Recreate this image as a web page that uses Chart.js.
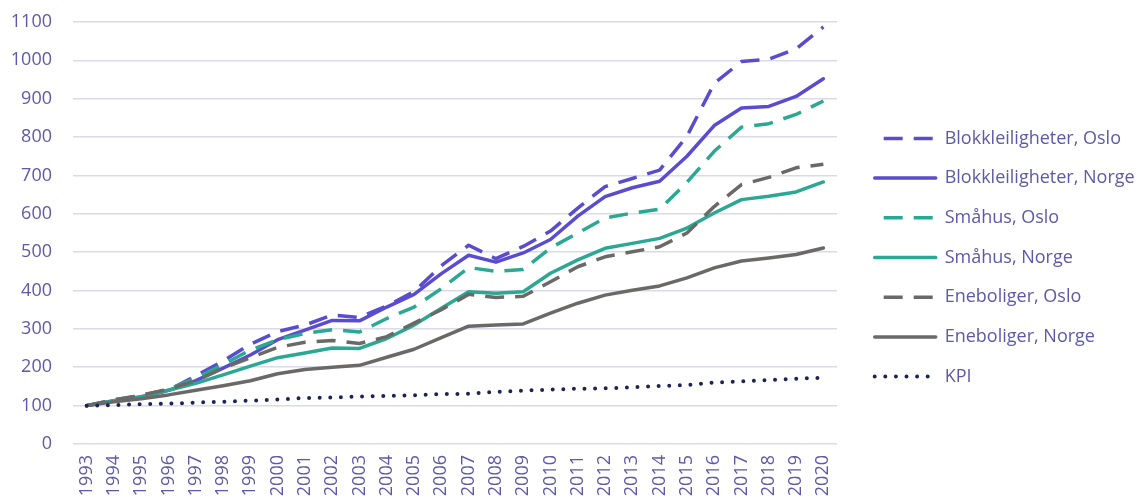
<!DOCTYPE html>
<html>
<head>
<meta charset="utf-8">
<script src="https://cdn.jsdelivr.net/npm/chart.js@4/dist/chart.umd.min.js"></script>
<style>
  html, body { margin: 0; padding: 0; background: #ffffff; }
  #wrap { width: 1140px; height: 499px; position: relative; }
</style>
</head>
<body>
<div id="wrap"><canvas id="chart"></canvas></div>
<script>
// Prisindeks (1993 = 100) for boligtyper i Oslo og Norge, sammen med KPI
const years = ['1993','1994','1995','1996','1997','1998','1999','2000','2001','2002',
               '2003','2004','2005','2006','2007','2008','2009','2010','2011','2012',
               '2013','2014','2015','2016','2017','2018','2019','2020'];

const blokkOslo  = [100,113,125,140,178,216,260,293,310,336,330,360,397,465,518,483,515,555,615,671,692,714,802,940,997,1003,1030,1087];
const blokkNorge = [100,113,123,140,165,198,232,272,297,322,321,357,390,444,492,474,498,533,594,645,668,685,750,830,876,880,906,952];
const smahusOslo = [100,115,127,142,172,207,245,272,288,298,292,327,357,405,460,450,455,511,550,589,602,612,682,763,826,835,859,894];
const smahusNorge = [100,113,122,140,158,180,203,225,237,250,249,275,310,354,397,393,397,445,480,510,523,536,563,602,637,646,657,683];
const eneOslo    = [100,115,127,143,165,198,225,252,265,270,262,280,315,350,390,382,385,423,462,488,501,514,550,619,676,695,720,729];
const eneNorge   = [100,110,118,128,140,152,165,183,194,200,205,226,247,277,307,310,313,341,367,388,401,412,433,459,477,485,494,511];
const kpi        = [100,101,104,105,108,110,113,116,120,121,124,125,127,130,131,136,139,142,144,145,148,151,154,160,163,167,170,173];

const yTicks = [0,100,200,300,400,500,600,700,800,900,1000,1100];

const PURPLE = '#5a4cd0';
const TEAL   = '#2aa893';
const GREY   = '#6b6868';
const NAVY   = '#1d2452';
const TEXT   = '#5d59a8';
const GRID   = '#dadae8';
const DASH   = [19, 11];
const DOTS   = [0, 10.6];

function series(label, data, color, style, order) {
  const ds = {
    label, data,
    borderColor: color,
    backgroundColor: color,
    borderWidth: 3.5,
    pointRadius: 0,
    pointHoverRadius: 0,
    tension: 0,
    fill: false,
    borderJoinStyle: 'round',
    order
  };
  if (style === 'dash') { ds.borderDash = DASH; ds.borderCapStyle = 'butt'; }
  else if (style === 'dot') { ds.borderDash = DOTS; ds.borderCapStyle = 'round'; ds.borderWidth = 4; }
  else { ds.borderCapStyle = 'round'; }
  return ds;
}

// moves the legend block after layout so the key sits beside the plot,
// and lets its box reach the right edge of the canvas
const legendNudge = {
  id: 'legendNudge',
  afterLayout(chart, args, opts) {
    const lg = chart.legend;
    if (!lg) return;
    lg.left += opts.x;
    lg.right = chart.width;
    lg.width = lg.right - lg.left;
    lg.top += opts.y;
    lg.bottom += opts.y;
  }
};

const fontFamily = '"Open Sans", Lato, sans-serif';

new Chart(document.getElementById('chart'), {
  type: 'line',
  data: {
    labels: years,
    datasets: [
      series('Blokkleiligheter, Oslo', blokkOslo, PURPLE, 'dash', 6),
      series('Blokkleiligheter, Norge', blokkNorge, PURPLE, 'solid', 5),
      series('Småhus, Oslo', smahusOslo, TEAL, 'dash', 4),
      series('Småhus, Norge', smahusNorge, TEAL, 'solid', 3),
      series('Eneboliger, Oslo', eneOslo, GREY, 'dash', 2),
      series('Eneboliger, Norge', eneNorge, GREY, 'solid', 1),
      series('KPI', kpi, NAVY, 'dot', 0)
    ]
  },
  plugins: [legendNudge],
  options: {
    responsive: true,
    maintainAspectRatio: false,
    animation: false,
    devicePixelRatio: 1,
    layout: { padding: { left: 10, right: 43, top: 22, bottom: 2 } },
    scales: {
      x: {
        type: 'category',
        offset: true,
        grid: { display: false, drawTicks: false },
        border: { display: false },
        afterFit: (axis) => { axis.height = 53; },
        ticks: {
          autoSkip: false,
          maxRotation: 90,
          minRotation: 90,
          padding: 11,
          color: TEXT,
          font: { family: fontFamily, size: 18 }
        }
      },
      y: {
        min: 0,
        max: 1100,
        afterBuildTicks: (axis) => { axis.ticks = yTicks.map(v => ({ value: v })); },
        afterFit: (axis) => { axis.width = 63; axis.paddingTop = 11; axis.paddingBottom = 11; },
        grid: { color: GRID, lineWidth: 1.6, drawTicks: false },
        border: { display: false },
        ticks: {
          padding: 21,
          color: TEXT,
          font: { family: fontFamily, size: 18 },
          callback: (v) => String(v)
        }
      }
    },
    plugins: {
      tooltip: { enabled: false },
      legendNudge: { x: 16, y: -2 },
      legend: {
        position: 'right',
        align: 'center',
        maxWidth: 260,
        labels: {
          usePointStyle: true,
          pointStyleWidth: 61,
          padding: 21.7,
          color: TEXT,
          font: { family: fontFamily, size: 18 },
          generateLabels: (chart) => chart.data.datasets.map((ds, i) => ({
            text: ds.label,
            fillStyle: ds.borderColor,
            strokeStyle: ds.borderColor,
            fontColor: TEXT,
            lineWidth: ds.borderWidth,
            lineDash: ds.borderDash || [],
            lineDashOffset: ds.borderDash === DASH ? 21 : 0,
            lineCap: ds.borderCapStyle,
            pointStyle: 'line',
            hidden: !chart.isDatasetVisible(i),
            datasetIndex: i
          }))
        }
      }
    }
  }
});
</script>
</body>
</html>
